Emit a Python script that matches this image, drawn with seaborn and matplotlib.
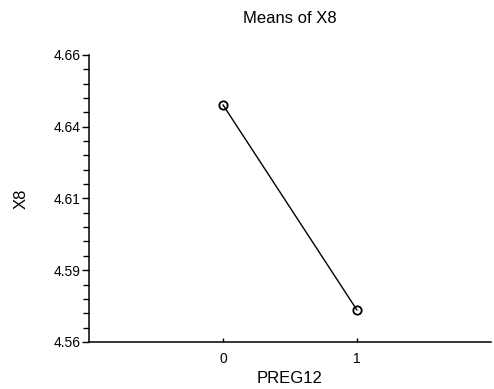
import matplotlib
matplotlib.use("Agg")
import matplotlib.pyplot as plt
from matplotlib.ticker import MultipleLocator, FixedLocator, FixedFormatter
import seaborn as sns
import pandas as pd

# Group means of X8 by PREG12
preg12 = [0, 1]
x8_means = [4.6426, 4.5711]

# Y axis ticks and their printed labels
y_ticks = [4.56, 4.585, 4.61, 4.635, 4.66]
y_tick_labels = ["4.56", "4.59", "4.61", "4.64", "4.66"]
x_ticks = [0, 1]
x_tick_labels = ["0", "1"]

df = pd.DataFrame({"PREG12": preg12, "X8": x8_means})

sns.set_style("ticks")
plt.rcParams["font.family"] = ["Liberation Sans", "DejaVu Sans"]
plt.rcParams["text.color"] = "black"
plt.rcParams["axes.labelcolor"] = "black"

fig = plt.figure(figsize=(4.94, 3.89), dpi=100)
ax = fig.add_axes([0.180, 0.121, 0.814, 0.738])

sns.lineplot(data=df, x="PREG12", y="X8", ax=ax, color="black", linewidth=1.0,
             marker="o", markersize=6, markerfacecolor="none",
             markeredgecolor="black", markeredgewidth=1.3)

ax.set_xlim(-1.0, 2.0)
ax.set_ylim(4.56, 4.66)

ax.yaxis.set_major_locator(FixedLocator(y_ticks))
ax.yaxis.set_major_formatter(FixedFormatter(y_tick_labels))
ax.yaxis.set_minor_locator(MultipleLocator(0.005))
ax.xaxis.set_major_locator(FixedLocator(x_ticks))
ax.xaxis.set_major_formatter(FixedFormatter(x_tick_labels))

ax.tick_params(axis="y", which="major", direction="out", length=5, width=1,
               labelsize=10, pad=1, colors="black")
ax.tick_params(axis="y", which="minor", direction="out", length=4, width=1,
               colors="black")
ax.tick_params(axis="x", which="major", direction="in", length=3, width=1,
               labelsize=10, pad=7, colors="black")

for side in ("top", "right"):
    ax.spines[side].set_visible(False)
for side in ("left", "bottom"):
    ax.spines[side].set_linewidth(1.1)
    ax.spines[side].set_color("black")

ax.set_title("Means of X8", fontsize=12, pad=23, color="black")
ax.set_xlabel("PREG12", fontsize=12, labelpad=4)
ax.set_ylabel("X8", fontsize=12, labelpad=18)

fig.savefig("out.png", dpi=100)
